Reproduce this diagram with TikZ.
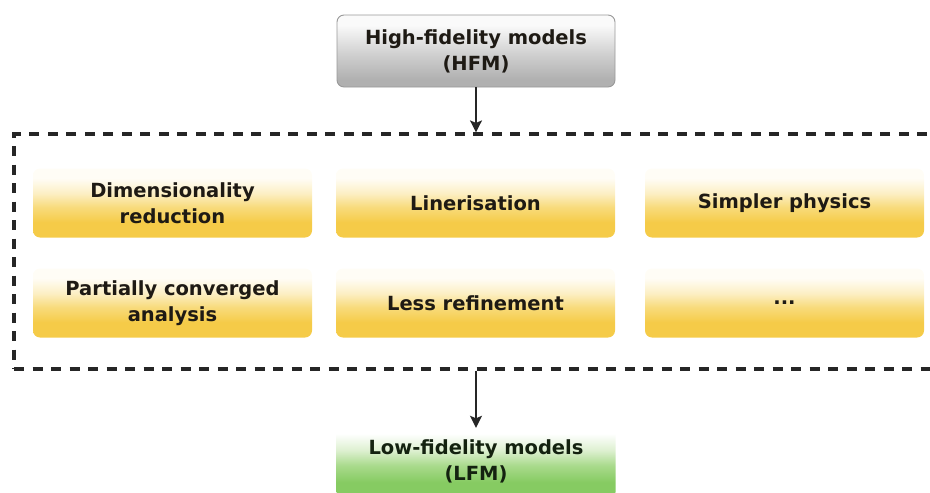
\documentclass[tikz,border=0pt]{standalone}
\usepackage{fontspec}
\setmainfont{DejaVu Sans}
\usetikzlibrary{arrows.meta}

\definecolor{txt}{HTML}{1E1A14}
\definecolor{gtxt}{HTML}{142210}
\definecolor{ybot}{HTML}{F5CB48}
\definecolor{ymid}{HTML}{F8DB7C}
\definecolor{ylight}{HTML}{FCEFC4}
\definecolor{ytop}{HTML}{FFFDF6}
\definecolor{gbot}{HTML}{86CB62}
\definecolor{gmid}{HTML}{A9DA8C}
\definecolor{glight}{HTML}{DDF0D0}
\definecolor{sbot}{HTML}{B0B0B0}
\definecolor{smid}{HTML}{D0D0D0}
\definecolor{stop}{HTML}{FAFAFA}

% vertical shadings, bottom of the shading at 0bp
\pgfdeclareverticalshading{methodfill}{100bp}{color(0bp)=(ybot); color(36bp)=(ybot); color(47bp)=(ymid); color(57bp)=(ylight); color(68bp)=(ytop); color(100bp)=(ytop)}
\pgfdeclareverticalshading{hfmfill}{100bp}{color(0bp)=(sbot); color(30bp)=(sbot); color(48bp)=(smid); color(68bp)=(stop); color(100bp)=(stop)}
\pgfdeclareverticalshading{lfmfill}{100bp}{color(0bp)=(gbot); color(36bp)=(gbot); color(47bp)=(gmid); color(57bp)=(glight); color(68bp)=(white); color(100bp)=(white)}

\tikzset{
  card/.style={rectangle, rounded corners=7pt, align=center, text=txt,
    font=\fontsize{19.5}{26}\selectfont\bfseries, inner sep=0pt},
  method/.style={card, shading=methodfill, minimum width=279pt, minimum height=69pt},
  hfmbox/.style={card, shading=hfmfill, draw=gray!80, line width=0.9pt,
    minimum width=278pt, minimum height=72pt},
  lfmbox/.style={card, shading=lfmfill, text=gtxt, minimum width=279pt, minimum height=76pt},
  frame/.style={rectangle, draw=black!85, line width=3.2pt,
    dash pattern=on 10pt off 8.5pt, inner sep=0pt},
  flow/.style={draw=black!85, line width=1.5pt,
    -{Stealth[length=12pt,width=12pt,inset=2.5pt]}}
}

\begin{document}
\begin{tikzpicture}[x=1pt, y=-1pt]
  \useasboundingbox (0,0) rectangle (930,493);
  \clip (0,0) rectangle (930,493);

  % dashed frame around the approaches (its right side runs off the page)
  \node[frame, minimum width=931pt, minimum height=235pt] (grp) at (479.5,251.5) {};

  % source and result models
  \node[hfmbox] (hfm) at (476,51) {High-fidelity models\\(HFM)};
  \node[lfmbox] (lfm) at (476,461) {Low-fidelity models\\(LFM)};

  % approaches, two rows of three
  \node[method] (dim)  at (172.5,203) {Dimensionality\\reduction};
  \node[method] (lin)  at (475.5,203) {Linerisation};
  \node[method] (phys) at (784.5,203) {Simpler physics};
  \node[method] (part) at (172.5,303) {Partially converged\\analysis};
  \node[method] (ref)  at (475.5,303) {Less refinement};
  \node[method] (more) at (784.5,303) {...};

  % connectors
  \draw[flow] (hfm.south) -- (hfm.south |- grp.north);
  \draw[flow] (lfm.north |- grp.south) -- ([yshift=-5pt]lfm.north);
\end{tikzpicture}
\end{document}
